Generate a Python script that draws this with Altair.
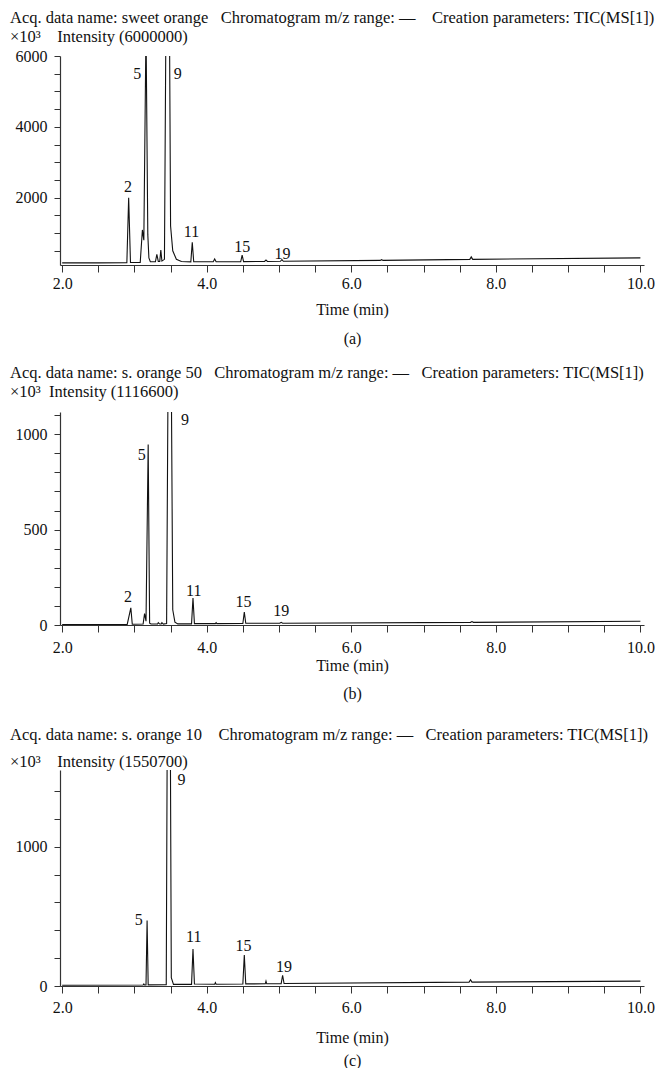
import altair as alt
import pandas as pd

FONT = "Liberation Serif"

# ---------------- Panel (a): sweet orange ----------------
a_t = [2.00, 2.50, 2.895, 2.92, 2.945, 3.08, 3.11, 3.13, 3.16, 3.185, 3.20, 3.22,
       3.29, 3.31, 3.33, 3.35, 3.365, 3.38, 3.415, 3.435, 3.485, 3.50, 3.53, 3.58, 3.65,
       3.78, 3.80, 3.82, 4.09, 4.11, 4.13, 4.47, 4.49, 4.51, 4.80, 4.82, 4.84,
       5.02, 5.04, 5.06, 6.40, 6.42, 6.44, 7.64, 7.66, 7.68, 10.0]
a_v = [160, 160, 165, 2000, 170, 175, 1090, 800, 6800, 950, 300, 190,
       190, 400, 200, 200, 520, 210, 260, 6800, 6800, 1200, 500, 260, 200,
       190, 742, 190, 190, 270, 190, 190, 380, 195, 200, 240, 200,
       205, 250, 205, 230, 250, 230, 260, 330, 260, 300]
a_lab = ["2", "5", "9", "11", "15", "19"]
a_lab_t = [2.91, 3.04, 3.60, 3.79, 4.49, 5.05]
a_lab_v = [2308, 5490, 5490, 1021, 602, 406]

# ---------------- Panel (b): s. orange 50 ----------------
b_t = [2.00, 2.90, 2.95, 2.97, 3.12, 3.14, 3.16, 3.19, 3.21, 3.23, 3.32, 3.33, 3.35,
       3.37, 3.38, 3.40, 3.445, 3.465, 3.51, 3.53, 3.56, 3.60, 3.79, 3.81, 3.83,
       4.12, 4.13, 4.14, 4.50, 4.52, 4.54, 5.01, 5.03, 5.05, 7.65, 7.67, 7.69, 10.0]
b_v = [3, 3, 90, 4, 5, 60, 20, 946, 10, 5, 5, 12, 5,
       5, 12, 5, 8, 1300, 1300, 80, 15, 6, 6, 142, 7,
       7, 12, 7, 8, 68, 9, 9, 14, 9, 14, 18, 14, 20]
b_lab = ["2", "5", "9", "11", "15", "19"]
b_lab_t = [2.91, 3.10, 3.70, 3.82, 4.51, 5.03]
b_lab_v = [147, 893, 1074, 179, 121, 74]

# ---------------- Panel (c): s. orange 10 ----------------
c_t = [2.00, 3.12, 3.13, 3.14, 3.16, 3.175, 3.19, 3.44, 3.455, 3.495, 3.51, 3.54,
       3.79, 3.81, 3.83, 4.11, 4.12, 4.13, 4.50, 4.52, 4.54, 4.81, 4.82, 4.83,
       5.03, 5.05, 5.07, 7.63, 7.65, 7.67, 10.0]
c_v = [5, 7, 15, 7, 7, 470, 8, 10, 2000, 2000, 60, 12,
       12, 265, 14, 13, 25, 13, 14, 222, 15, 16, 35, 16,
       17, 77, 18, 28, 45, 28, 35]
c_lab = ["5", "9", "11", "15", "19"]
c_lab_t = [3.06, 3.65, 3.82, 4.51, 5.07]
c_lab_v = [477, 1480, 350, 284, 137]

X_DOMAIN = [1.97, 10.05]
X_TICKS = [2.0 + 0.5 * i for i in range(17)]
W = 584


def panel(ts, vs, labs, lts, lvs, ydom, yticks, ymajor, header, sub, caption, height,
          offset, sub_pad, lab_pad, title_pad, line_h):
    line_df = pd.DataFrame({"t": ts, "v": vs})
    lab_df = pd.DataFrame({"t": lts, "v": lvs, "lab": labs})
    xenc = alt.X(
        "t:Q",
        scale=alt.Scale(domain=X_DOMAIN, nice=False, zero=False),
        axis=alt.Axis(
            values=X_TICKS,
            labelExpr="datum.value % 2 == 0 ? format(datum.value, '.1f') : ''",
            title=["Time (min)", caption],
            titleLineHeight=line_h,
            titlePadding=title_pad,
            labelPadding=lab_pad,
            tickSize=7,
            grid=False,
            labelFlush=False,
            labelOverlap=False,
        ),
    )
    yenc = alt.Y(
        "v:Q",
        scale=alt.Scale(domain=ydom, nice=False, zero=False),
        axis=alt.Axis(
            values=yticks,
            labelExpr=f"datum.value % {ymajor} == 0 ? format(datum.value, 'd') : ''",
            title=None,
            tickSize=6,
            labelPadding=7,
            grid=False,
            minExtent=50,
            maxExtent=50,
            labelOverlap=False,
        ),
    )
    line = alt.Chart(line_df).mark_line(color="#111111", strokeWidth=1.1, clip=True).encode(
        x=xenc, y=yenc
    )
    text = alt.Chart(lab_df).mark_text(font=FONT, fontSize=16, color="#111111").encode(
        x=xenc, y=yenc, text="lab:N"
    )
    return alt.layer(line, text).properties(
        width=W,
        height=height,
        title=alt.Title(
            text=header,
            subtitle=sub,
            anchor="start",
            frame="bounds",
            font=FONT,
            fontSize=16.5,
            fontWeight="normal",
            color="#111111",
            subtitleFont=FONT,
            subtitleFontSize=16.5,
            subtitleColor="#111111",
            subtitlePadding=sub_pad,
            offset=offset,
        ),
    )


NB = "\u00a0"
pa = panel(a_t, a_v, a_lab, a_lab_t, a_lab_v, [100, 6000], [500 * i for i in range(1, 13)], 2000,
           f"Acq. data name: sweet orange{NB*3}Chromatogram m/z range: \u2014{NB*4}Creation parameters: TIC(MS[1])",
           f"\u00d710\u00b3{NB*4}Intensity (6000000)", "(a)", 209,
           offset=3, sub_pad=2, lab_pad=3, title_pad=10, line_h=29)
pb = panel(b_t, b_v, b_lab, b_lab_t, b_lab_v, [0, 1116.6], [100 * i for i in range(0, 12)], 500,
           f"Acq. data name: s. orange 50{NB*3}Chromatogram m/z range: \u2014{NB*3}Creation parameters: TIC(MS[1])",
           f"\u00d710\u00b3{NB*2}Intensity (1116600)", "(b)", 213,
           offset=7, sub_pad=2, lab_pad=7, title_pad=2, line_h=28)
pc = panel(c_t, c_v, c_lab, c_lab_t, c_lab_v, [0, 1550.7], [200 * i for i in range(0, 8)], 1000,
           f"Acq. data name: s. orange 10{NB*4}Chromatogram m/z range: \u2014{NB*3}Creation parameters: TIC(MS[1])",
           f"\u00d710\u00b3{NB*4}Intensity (1550700)", "(c)", 216,
           offset=0, sub_pad=10, lab_pad=6, title_pad=14, line_h=23)

chart = alt.vconcat(pa, alt.vconcat(pb, pc, spacing=26), spacing=19).properties(
    padding={"left": 2, "top": 2, "right": 0, "bottom": 0},
    background="white",
).configure_view(stroke=None).configure_axis(
    labelFont=FONT,
    labelFontSize=16,
    labelColor="#111111",
    titleFont=FONT,
    titleFontSize=16,
    titleFontWeight="normal",
    titleColor="#111111",
    domainColor="#333333",
    tickColor="#333333",
    domainWidth=1.2,
    tickWidth=1,
)

chart.save("out.html", embed_options={"renderer": "svg", "actions": False})
